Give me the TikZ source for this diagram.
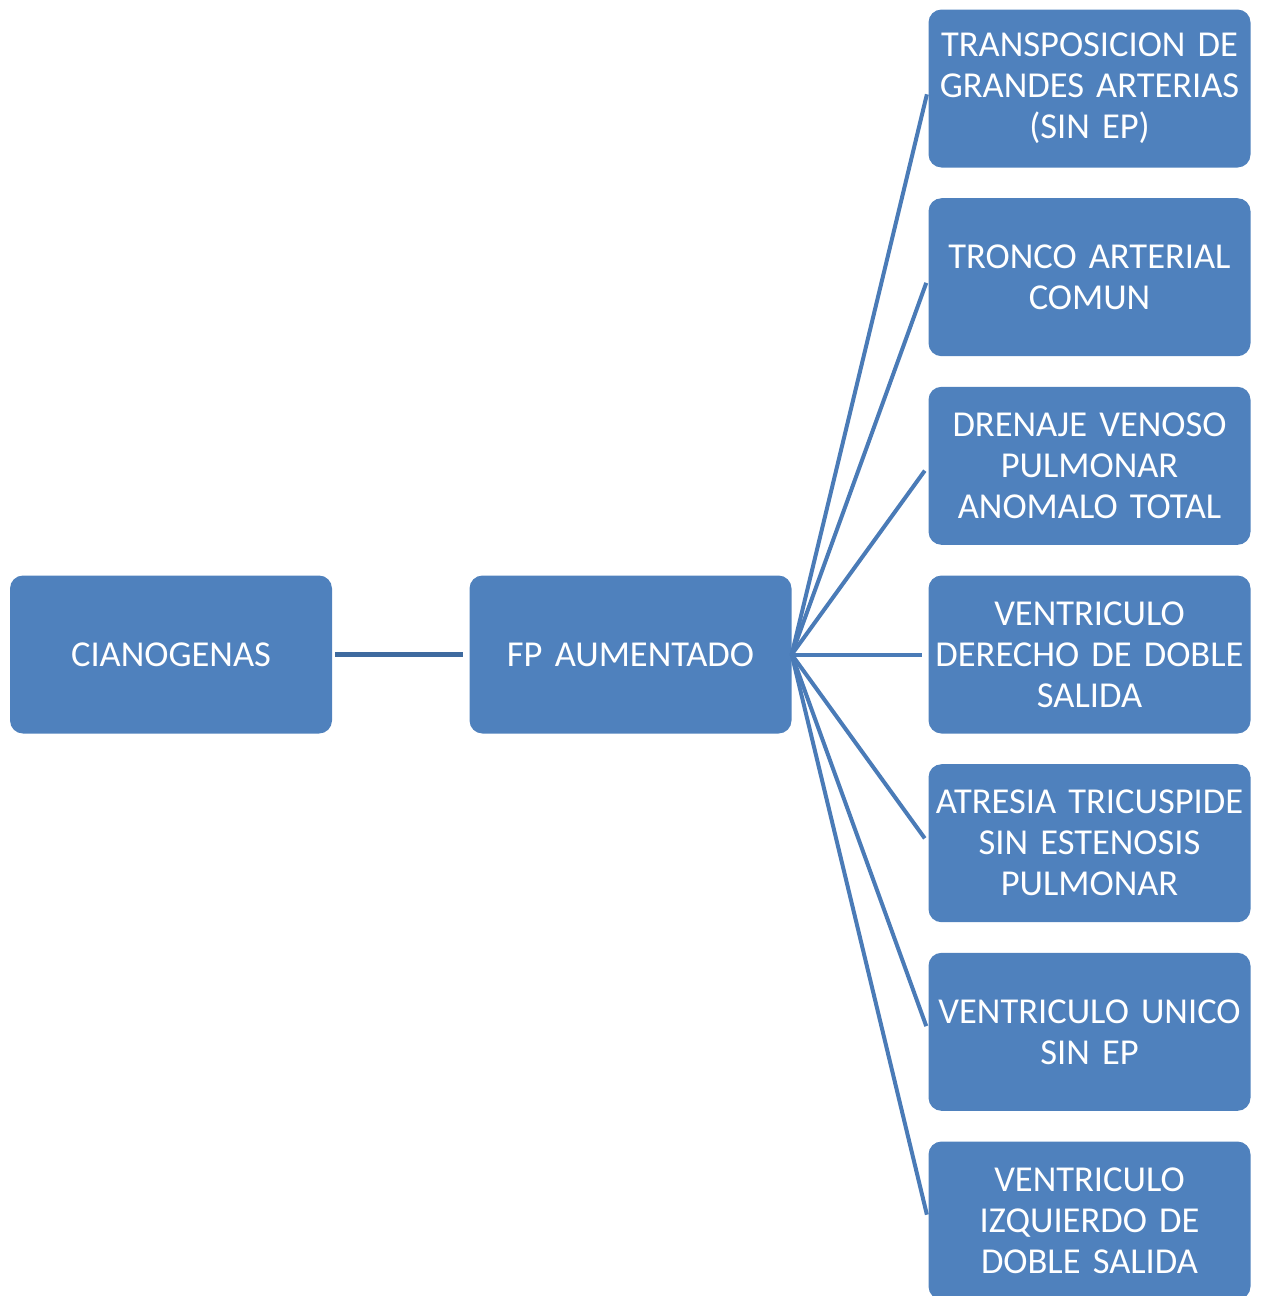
\documentclass[tikz,border=0pt]{standalone}
\usepackage{fontspec}
\setmainfont{Carlito}
\definecolor{boxblue}{HTML}{4F81BD}
\definecolor{spokeblue}{HTML}{4A7BB7}
\definecolor{linkblue}{HTML}{3E6A9F}
\tikzset{
  x=1pt, y=-1pt,
  blk/.style={rectangle, rounded corners=13pt, fill=boxblue, text=white,
    minimum width=322pt, minimum height=158pt, inner sep=0pt,
    text width=318pt, align=center,
    font=\fontsize{36.5}{41}\selectfont},
  spoke/.style={draw=spokeblue, line width=4pt, shorten >=6pt},
  link/.style={draw=linkblue, line width=4.5pt, shorten <=3pt, shorten >=6pt}
}
\begin{document}
\begin{tikzpicture}
\useasboundingbox (0,0) rectangle (1265,1296);
\clip (0,0) rectangle (1265,1296);

% root and middle level
\node[blk] (cian) at (171,654.5) {CIANOGENAS};
\node[blk] (fp) at (630.5,654.5) {FP AUMENTADO};

% right column of conditions
\node[blk] (r1) at (1089.5,88.5) {TRANSPOSICION DE\\GRANDES ARTERIAS\\(SIN EP)};
\node[blk] (r2) at (1089.5,277.2) {TRONCO ARTERIAL\\COMUN};
\node[blk] (r3) at (1089.5,465.8) {DRENAJE VENOSO\\PULMONAR\\ANOMALO TOTAL};
\node[blk] (r4) at (1089.5,654.5) {VENTRICULO\\DERECHO DE DOBLE\\SALIDA};
\node[blk] (r5) at (1089.5,843.2) {ATRESIA TRICUSPIDE\\SIN ESTENOSIS\\PULMONAR};
\node[blk] (r6) at (1089.5,1031.8) {VENTRICULO UNICO\\SIN EP};
\node[blk] (r7) at (1089.5,1220.5) {VENTRICULO\\IZQUIERDO DE\\DOBLE SALIDA};

% connectors
\draw[link] (cian.east) -- (fp.west);
\foreach \r in {r1,r2,r3,r4,r5,r6,r7}
  \draw[spoke] (fp.east) -- (\r.west);
\end{tikzpicture}
\end{document}
